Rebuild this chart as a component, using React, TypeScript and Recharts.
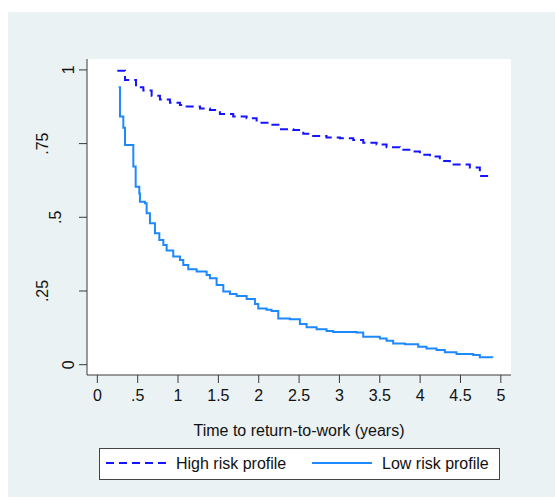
import { LineChart, Line, XAxis, YAxis, CartesianGrid } from 'recharts';

const highRiskTime = [0.248, 0.343, 0.479, 0.57, 0.673, 0.776, 0.9, 1.024, 1.107, 1.272, 1.395, 1.519, 1.684, 1.85, 1.974, 2.139, 2.263, 2.428, 2.552, 2.675, 2.84, 3.006, 3.171, 3.295, 3.46, 3.584, 3.749, 3.914, 3.997, 4.121, 4.244, 4.368, 4.616, 4.74, 4.897];
const highRiskSurv = [0.997, 0.966, 0.941, 0.93, 0.912, 0.9, 0.889, 0.881, 0.876, 0.869, 0.864, 0.85, 0.842, 0.836, 0.821, 0.814, 0.799, 0.796, 0.783, 0.776, 0.771, 0.768, 0.762, 0.753, 0.747, 0.738, 0.729, 0.723, 0.712, 0.706, 0.691, 0.679, 0.669, 0.64, 0.638];

const lowRiskTime = [0.264, 0.281, 0.322, 0.343, 0.446, 0.475, 0.52, 0.528, 0.59, 0.611, 0.652, 0.714, 0.768, 0.818, 0.859, 0.941, 1.024, 1.065, 1.127, 1.23, 1.354, 1.395, 1.478, 1.561, 1.643, 1.726, 1.85, 1.953, 1.994, 2.097, 2.159, 2.242, 2.386, 2.51, 2.593, 2.717, 2.841, 2.923, 3.212, 3.295, 3.501, 3.584, 3.666, 3.811, 3.976, 4.079, 4.203, 4.306, 4.451, 4.657, 4.74, 4.897];
const lowRiskSurv = [0.941, 0.842, 0.804, 0.745, 0.672, 0.604, 0.581, 0.553, 0.548, 0.514, 0.48, 0.446, 0.423, 0.406, 0.387, 0.367, 0.355, 0.338, 0.324, 0.316, 0.304, 0.293, 0.27, 0.248, 0.24, 0.233, 0.223, 0.206, 0.191, 0.186, 0.182, 0.157, 0.154, 0.138, 0.127, 0.12, 0.114, 0.111, 0.109, 0.095, 0.089, 0.081, 0.072, 0.069, 0.061, 0.055, 0.05, 0.042, 0.036, 0.033, 0.025, 0.024];

const xTicks = [0, 0.5, 1, 1.5, 2, 2.5, 3, 3.5, 4, 4.5, 5];
const yTicks = [0, 0.25, 0.5, 0.75, 1];

const seriesNames = ['High risk profile', 'Low risk profile'];
const xTitle = 'Time to return-to-work (years)';

const highData = highRiskTime.map((t, i) => ({ t, s: highRiskSurv[i] }));
const lowData = lowRiskTime.map((t, i) => ({ t, s: lowRiskSurv[i] }));

const HIGH = '#1414ff';
const LOW = '#1e88ff';
const AXIS = '#3a3a3a';
const FONT = '"Liberation Sans", Arial, sans-serif';

// stata style: drop leading zero
const fmt = (v: number) => {
  const s = String(v);
  return s.startsWith('0.') ? s.slice(1) : s;
};

const XTick = (props: any) => {
  const { x, y, payload } = props;
  return (
    <text x={x} y={y + 16} textAnchor="middle" fontSize={16} fontFamily={FONT} fill="#111">
      {fmt(payload.value)}
    </text>
  );
};

const YTick = (props: any) => {
  const { x, y, payload } = props;
  const label = fmt(payload.value);
  const cx = x - (13 * label.length - 4.5);
  return (
    <text
      x={cx}
      y={y}
      textAnchor="middle"
      dominantBaseline="central"
      fontSize={16}
      fontFamily={FONT}
      fill="#111"
      transform={`rotate(-90 ${cx} ${y})`}
    >
      {label}
    </text>
  );
};

export default function App() {
  return (
    <div style={{ position: 'absolute', left: 8, top: 12, width: 547, height: 485, background: '#eaf2f3' }}>
      <LineChart width={547} height={485} margin={{ top: 47, right: 44, left: 39, bottom: 92 }}>
        <CartesianGrid horizontal={false} vertical={false} fill="#ffffff" />
        <XAxis
          type="number"
          dataKey="t"
          domain={[-0.128, 5.126]}
          ticks={xTicks}
          allowDataOverflow
          height={30}
          tickSize={8}
          stroke={AXIS}
          tick={<XTick />}
          label={(p: any) => {
            const vb = p.viewBox;
            return (
              <text x={vb.x + vb.width / 2} y={vb.y + 60.5} textAnchor="middle" fontSize={16} fontFamily={FONT} fill="#111">
                {xTitle}
              </text>
            );
          }}
        />
        <YAxis
          type="number"
          dataKey="s"
          domain={[-0.035, 1.037]}
          ticks={yTicks}
          allowDataOverflow
          width={40}
          tickSize={8}
          stroke={AXIS}
          tick={<YTick />}
        />
        <Line data={highData} dataKey="s" type="stepAfter" stroke={HIGH} strokeWidth={2} strokeDasharray="8 5" dot={false} activeDot={false} isAnimationActive={false} />
        <Line data={lowData} dataKey="s" type="stepAfter" stroke={LOW} strokeWidth={2} dot={false} activeDot={false} isAnimationActive={false} />
      </LineChart>
      <svg width={547} height={485} style={{ position: 'absolute', left: 0, top: 0, pointerEvents: 'none' }}>
        <rect x={91.5} y={436.5} width={400} height={31} fill="#fff" stroke="#444" strokeWidth={1} />
        <line x1={98} x2={158} y1={451} y2={451} stroke={HIGH} strokeWidth={2} strokeDasharray="8 5" />
        <text x={168} y={457} fontSize={16} fontFamily={FONT} fill="#111">{seriesNames[0]}</text>
        <line x1={304} x2={364} y1={451} y2={451} stroke={LOW} strokeWidth={2} />
        <text x={374} y={457} fontSize={16} fontFamily={FONT} fill="#111">{seriesNames[1]}</text>
      </svg>
    </div>
  );
}
